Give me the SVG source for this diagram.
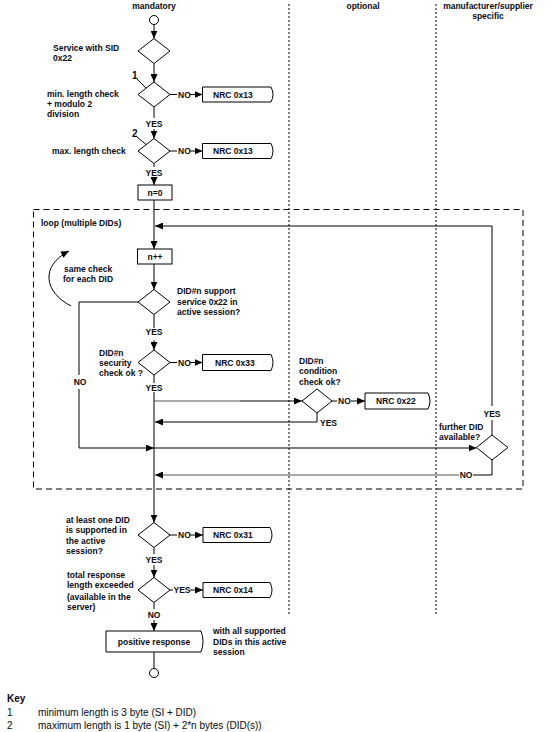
<svg xmlns="http://www.w3.org/2000/svg" width="557" height="732" viewBox="0 0 557 732">
<style>
  text { font-family: "Liberation Sans", Arial, sans-serif; fill: #0a0a14; }
  .b { font-weight: bold; font-size: 8.5px; }
  .n { font-weight: bold; font-size: 10px; }
  .c { text-anchor: middle; }
  .k { font-size: 10px; }
  .kb { font-size: 10px; font-weight: bold; }
  .shape { fill: #fff; stroke: #000; stroke-width: 1; }
  .ln { fill: none; stroke: #000; stroke-width: 1; }
  .gr { fill: none; stroke: #555; stroke-width: 1; }
  .dot { fill: none; stroke: #000; stroke-width: 1; stroke-dasharray: 2 2; }
  .dash { fill: none; stroke: #000; stroke-width: 1; stroke-dasharray: 6 4; }
</style>
<defs>
  <marker id="ah" markerUnits="userSpaceOnUse" markerWidth="8" markerHeight="7" refX="8" refY="3.5" orient="auto">
    <path d="M0,0 L8,3.5 L0,7 Z" fill="#000"/>
  </marker>
</defs>

<g id="lanes">
  <line class="dot" x1="289" y1="4" x2="289" y2="615"/>
  <line class="dot" x1="436" y1="4" x2="436" y2="615"/>
  <text class="b c" x="154" y="8.5">mandatory</text>
  <text class="b c" x="363" y="9">optional</text>
  <text class="b c" x="488" y="9">manufacturer/supplier</text>
  <text class="b c" x="488" y="19">specific</text>
</g>

<g id="loop">
  <rect class="dash" x="33.5" y="209.5" width="489.5" height="279.5"/>
  <text class="b" x="41" y="226">loop (multiple DIDs)</text>
  <path class="ln" d="M71,306 C44,292 40,266 69,251" marker-end="url(#ah)"/>
  <text class="b" x="64" y="272">same check</text>
  <text class="b" x="63" y="282">for each DID</text>
</g>

<g id="connectors">
  <path class="ln" d="M154,24.5 V38.5" marker-end="url(#ah)"/>
  <path class="ln" d="M154,63.5 V82" marker-end="url(#ah)"/>
  <path class="ln" d="M170,94.5 H177"/>
  <path class="ln" d="M190,94.5 H202.5" marker-end="url(#ah)"/>
  <path class="ln" d="M154,107 V118"/>
  <path class="ln" d="M154,129 V138.5" marker-end="url(#ah)"/>
  <path class="ln" d="M170,151 H177"/>
  <path class="ln" d="M190,151 H202.5" marker-end="url(#ah)"/>
  <path class="ln" d="M154,163.5 V167"/>
  <path class="ln" d="M154,178 V185" marker-end="url(#ah)"/>
  <path class="ln" d="M154,200 V249" marker-end="url(#ah)"/>
  <path class="ln" d="M492,435 V420"/>
  <path class="ln" d="M492,406 V226 H155" marker-end="url(#ah)"/>
  <path class="ln" d="M154,264 V289.5" marker-end="url(#ah)"/>
  <path class="ln" d="M138,302 H79 V375"/>
  <path class="ln" d="M79,389 V448 H154" marker-end="url(#ah)"/>
  <path class="ln" d="M154,448 H476.5" marker-end="url(#ah)"/>
  <path class="ln" d="M154,314.5 V328"/>
  <path class="ln" d="M154,340 V350" marker-end="url(#ah)"/>
  <path class="ln" d="M170,362.5 H177"/>
  <path class="ln" d="M190,362.5 H202.5" marker-end="url(#ah)"/>
  <path class="ln" d="M154,375 V383"/>
  <path class="ln" d="M154,392 V522.5" marker-end="url(#ah)"/>
  <path class="gr" d="M154,401 H240"/>
  <path class="ln" d="M240,401 H302" marker-end="url(#ah)"/>
  <path class="ln" d="M317,413 V422 H155" marker-end="url(#ah)"/>
  <path class="ln" d="M332,401 H337"/>
  <path class="ln" d="M351,401 H365" marker-end="url(#ah)"/>
  <path class="ln" d="M492,459 V475 H473"/>
  <path class="gr" d="M459,475 H155" marker-end="url(#ah)"/>
  <path class="ln" d="M170,535 H177"/>
  <path class="ln" d="M190,535 H203" marker-end="url(#ah)"/>
  <path class="ln" d="M154,547.5 V554"/>
  <path class="ln" d="M154,565 V577.5" marker-end="url(#ah)"/>
  <path class="ln" d="M170,590 H173"/>
  <path class="ln" d="M190,590 H203" marker-end="url(#ah)"/>
  <path class="ln" d="M154,602.5 V609"/>
  <path class="ln" d="M154,620 V631" marker-end="url(#ah)"/>
  <path class="ln" d="M154,652 V668"/>
  <path class="ln" d="M137,79 L146,88"/>
  <path class="ln" d="M137,137 L146,144.5"/>
</g>

<g id="labels">
  <text class="b" x="178" y="97.5">NO</text>
  <text class="b c" x="154" y="126.5">YES</text>
  <text class="b" x="178" y="154">NO</text>
  <text class="b c" x="154" y="175.5">YES</text>
  <text class="b c" x="154" y="335">YES</text>
  <text class="b" x="178" y="365.5">NO</text>
  <text class="b c" x="154" y="390.5">YES</text>
  <text class="b c" x="80" y="385">NO</text>
  <text class="b" x="338" y="404">NO</text>
  <text class="b" x="320" y="425.5">YES</text>
  <text class="b c" x="492" y="416.5">YES</text>
  <text class="b c" x="466" y="478">NO</text>
  <text class="b" x="178" y="538">NO</text>
  <text class="b c" x="154" y="562.5">YES</text>
  <text class="b" x="173.5" y="593">YES</text>
  <text class="b c" x="154" y="617.5">NO</text>
  <text class="n" x="132" y="78.5">1</text>
  <text class="n" x="132" y="136.5">2</text>
</g>

<g id="start">
  <circle class="shape" cx="154" cy="20" r="4.5"/>
</g>

<g id="d_sid">
  <path class="shape" d="M154,38.5 L170,51 L154,63.5 L138,51 Z"/>
  <text class="b" x="53" y="50.5">Service with SID</text>
  <text class="b" x="53" y="60.5">0x22</text>
</g>

<g id="d_minlen">
  <path class="shape" d="M154,82 L170,94.5 L154,107 L138,94.5 Z"/>
  <text class="b" x="47" y="96.5">min. length check</text>
  <text class="b" x="47" y="106.5">+ modulo 2</text>
  <text class="b" x="47" y="116.5">division</text>
</g>

<g id="nrc13a">
  <path class="shape" d="M202.5,87 H271 Q275,94.5 271,102 H202.5 Z"/>
  <text class="b" x="213" y="97.5">NRC 0x13</text>
</g>

<g id="d_maxlen">
  <path class="shape" d="M154,138.5 L170,151 L154,163.5 L138,151 Z"/>
  <text class="b" x="52" y="154">max. length check</text>
</g>

<g id="nrc13b">
  <path class="shape" d="M202.5,143.5 H271 Q275,151 271,158.5 H202.5 Z"/>
  <text class="b" x="213" y="154">NRC 0x13</text>
</g>

<g id="n0">
  <rect class="shape" x="138" y="185" width="34" height="15"/>
  <text class="b c" x="155" y="195.5">n=0</text>
</g>

<g id="ninc">
  <rect class="shape" x="137.5" y="249" width="34.5" height="15"/>
  <text class="b c" x="155" y="259.5">n++</text>
</g>

<g id="d_support">
  <path class="shape" d="M154,289.5 L170,302 L154,314.5 L138,302 Z"/>
  <text class="b" x="177" y="294">DID#n support</text>
  <text class="b" x="177" y="304.5">service 0x22 in</text>
  <text class="b" x="177" y="315">active session?</text>
</g>

<g id="d_security">
  <path class="shape" d="M154,350 L170,362.5 L154,375 L138,362.5 Z"/>
  <text class="b" x="99" y="356">DID#n</text>
  <text class="b" x="99" y="366">security</text>
  <text class="b" x="99" y="376">check ok ?</text>
</g>

<g id="nrc33">
  <path class="shape" d="M202.5,354.5 H271 Q275,362.5 271,370.5 H202.5 Z"/>
  <text class="b" x="215" y="365.5">NRC 0x33</text>
</g>

<g id="d_condition">
  <path class="shape" d="M317,389 L332,401 L317,413 L302,401 Z"/>
  <text class="b" x="299" y="364">DID#n</text>
  <text class="b" x="299" y="374">condition</text>
  <text class="b" x="299" y="385">check ok?</text>
</g>

<g id="nrc22">
  <path class="shape" d="M365,393 H428 Q432,401 428,409 H365 Z"/>
  <text class="b" x="376" y="404">NRC 0x22</text>
</g>

<g id="d_further">
  <path class="shape" d="M492,435 L508,447.5 L492,460 L476.5,447.5 Z"/>
  <text class="b" x="439" y="430">further DID</text>
  <text class="b" x="439" y="440">available?</text>
</g>

<g id="d_atleast">
  <path class="shape" d="M154,522.5 L170,535 L154,547.5 L138,535 Z"/>
  <text class="b" x="66" y="523">at least one DID</text>
  <text class="b" x="66" y="533">is supported in</text>
  <text class="b" x="66" y="544">the active</text>
  <text class="b" x="66" y="554">session?</text>
</g>

<g id="nrc31">
  <path class="shape" d="M203,527.5 H270 Q274,535 270,542.5 H203 Z"/>
  <text class="b" x="213" y="538">NRC 0x31</text>
</g>

<g id="d_total">
  <path class="shape" d="M154,577.5 L170,590 L154,602.5 L138,590 Z"/>
  <text class="b" x="67" y="578">total response</text>
  <text class="b" x="67" y="588">length exceeded</text>
  <text class="b" x="67" y="599.5">(available in the</text>
  <text class="b" x="67" y="610">server)</text>
</g>

<g id="nrc14">
  <path class="shape" d="M203,582.5 H270 Q274,590 270,597.5 H203 Z"/>
  <text class="b" x="213" y="593">NRC 0x14</text>
</g>

<g id="positive">
  <path class="shape" d="M106,631 H201 Q205,641.5 201,652 H106 Z"/>
  <text class="b c" x="154" y="645">positive response</text>
  <text class="b" x="213" y="634">with all supported</text>
  <text class="b" x="213" y="645">DIDs in this active</text>
  <text class="b" x="213" y="655">session</text>
</g>

<g id="end">
  <circle class="shape" cx="154" cy="673" r="4.5"/>
</g>

<g id="key">
  <text class="kb" x="7" y="702">Key</text>
  <text class="k" x="7" y="716">1</text>
  <text class="k" x="38" y="716">minimum length is 3 byte (SI + DID)</text>
  <text class="k" x="7" y="729">2</text>
  <text class="k" x="38" y="729">maximum length is 1 byte (SI) + 2*n bytes (DID(s))</text>
</g>
</svg>
